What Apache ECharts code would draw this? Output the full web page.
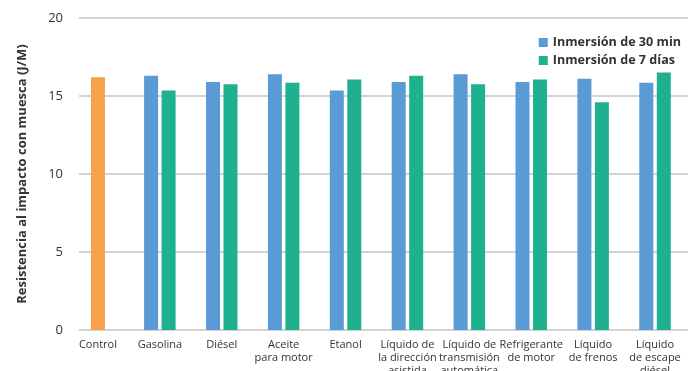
<!DOCTYPE html>
<html>
<head>
<meta charset="utf-8">
<script src="https://cdn.jsdelivr.net/npm/echarts@6/dist/echarts.min.js"></script>
<style>
  html, body { margin: 0; padding: 0; background: #fff; }
  #chart { width: 700px; height: 371px; }
</style>
</head>
<body>
<div id="chart"></div>
<script>
// Fluid categories along the x axis
const categories = [
  'Control', 'Gasolina', 'Diésel', 'Aceite\npara motor', 'Etanol',
  'Líquido de\nla dirección\nasistida', 'Líquido de\ntransmisión\nautomática',
  'Refrigerante\nde motor', 'Líquido\nde frenos', 'Líquido\nde escape\ndiésel'
];
// Notched impact strength (J/M)
const controlValues = [16.2, null, null, null, null, null, null, null, null, null];
const immersion30min = [null, 16.3, 15.9, 16.4, 15.35, 15.9, 16.4, 15.9, 16.1, 15.85];
const immersion7days = [null, 15.35, 15.75, 15.85, 16.05, 16.3, 15.75, 16.05, 14.6, 16.5];
const seriesNames = ['Inmersión de 30 min', 'Inmersión de 7 días'];
const yTicks = { min: 0, max: 20, interval: 5 };

const FONT = '"Open Sans", "Noto Sans", sans-serif';
const chart = echarts.init(document.getElementById('chart'), null, { renderer: 'canvas' });

chart.setOption({
  animation: false,
  textStyle: { fontFamily: FONT },
  legend: {
    data: seriesNames,
    orient: 'vertical',
    right: 14,
    top: 31,
    itemWidth: 9,
    itemHeight: 9,
    itemGap: 5,
    icon: 'rect',
    textStyle: { fontFamily: FONT, fontSize: 12.6, fontWeight: 'bold', color: '#333' }
  },
  grid: [
    // grid carrying the value axis and its gridlines
    { left: 79, right: 12, top: 18, bottom: 41, outerBoundsMode: 'none', containLabel: false },
    // grid carrying the bars and category labels
    { left: 67, right: 14, top: 18, bottom: 41, outerBoundsMode: 'none', containLabel: false }
  ],
  xAxis: [
    { gridIndex: 0, type: 'value', show: false, min: 0, max: 1 },
    {
      gridIndex: 1, type: 'category', data: categories,
      axisLine: { show: false }, axisTick: { show: false },
      axisLabel: { interval: 0, fontSize: 11, lineHeight: 13, color: '#333', margin: 8, fontFamily: FONT }
    },
    { gridIndex: 1, type: 'category', data: categories, show: false }
  ],
  yAxis: [
    {
      gridIndex: 0, type: 'value', min: yTicks.min, max: yTicks.max, interval: yTicks.interval,
      name: 'Resistencia al impacto con muesca (J/M)',
      nameLocation: 'middle', nameGap: 50,
      nameTextStyle: { fontSize: 13, fontWeight: 'bold', color: '#333', fontFamily: FONT },
      axisLine: { show: false }, axisTick: { show: false },
      axisLabel: { fontSize: 13, color: '#333', margin: 16, fontFamily: FONT },
      splitLine: { lineStyle: { color: '#d3d3d3', width: 2 } }
    },
    { gridIndex: 1, type: 'value', min: yTicks.min, max: yTicks.max, show: false }
  ],
  series: [
    {
      name: seriesNames[0], type: 'bar', xAxisIndex: 1, yAxisIndex: 1,
      data: immersion30min, barWidth: 14, barGap: '25%',
      itemStyle: { color: '#5b9bd5' }
    },
    {
      name: seriesNames[1], type: 'bar', xAxisIndex: 1, yAxisIndex: 1,
      data: immersion7days, barWidth: 14, barGap: '25%',
      itemStyle: { color: '#1fb08f' }
    },
    {
      name: 'Control', type: 'bar', xAxisIndex: 2, yAxisIndex: 1,
      data: controlValues, barWidth: 14,
      itemStyle: { color: '#f8a04a' }
    }
  ]
});
</script>
</body>
</html>
